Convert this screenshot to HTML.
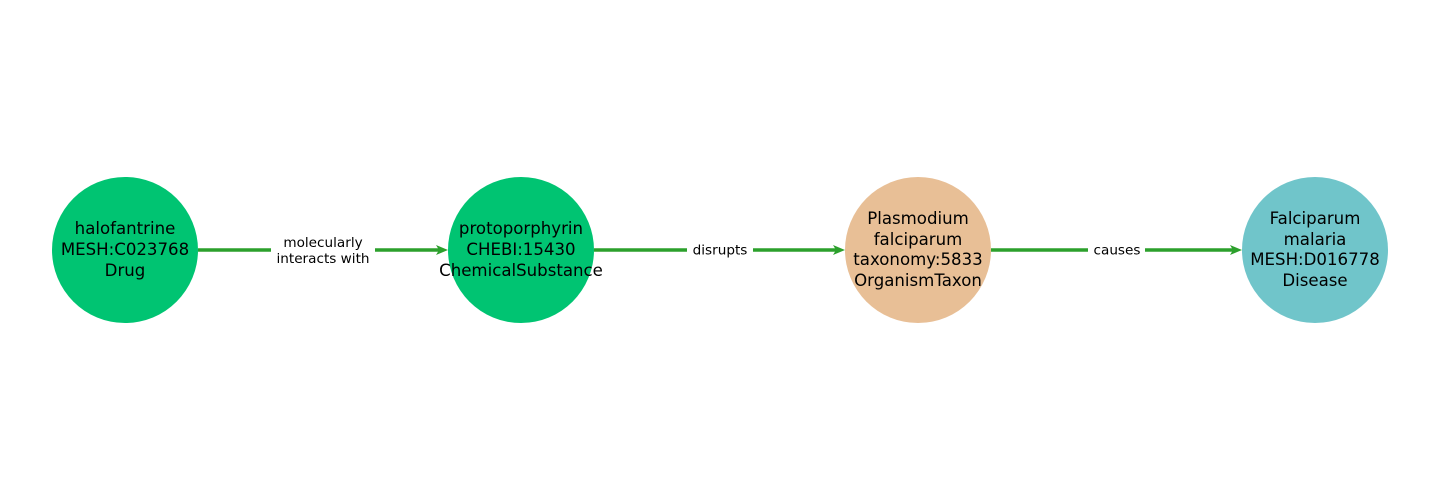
<!DOCTYPE html>
<html><head><meta charset="utf-8"><style>
html,body{margin:0;padding:0;background:#fff;}
svg{display:block;}
.n{font-family:"DejaVu Sans",sans-serif;font-size:16.6px;fill:#000;text-anchor:middle;}
.e{font-family:"DejaVu Sans",sans-serif;font-size:13.6px;fill:#000;text-anchor:middle;}
</style></head><body>
<svg width="1440" height="500" viewBox="0 0 1440 500">
<g stroke="#2ca02c" stroke-width="3.5">
<line x1="198" y1="250" x2="440" y2="250"/>
<line x1="594" y1="250" x2="837" y2="250"/>
<line x1="991" y1="250" x2="1234" y2="250"/>
</g>
<g fill="#2ca02c">
<polygon points="448,250 436,245 439,250 436,255"/>
<polygon points="845,250 833,245 836,250 833,255"/>
<polygon points="1242,250 1230,245 1233,250 1230,255"/>
</g>
<g fill="#fff">
<rect x="271" y="232" width="104" height="34"/>
<rect x="687" y="241" width="66" height="18"/>
<rect x="1088" y="241" width="57" height="18"/>
</g>
<text class="e" x="323" y="247">molecularly</text>
<text class="e" x="323" y="263">interacts with</text>
<text class="e" x="720" y="254.5">disrupts</text>
<text class="e" x="1117" y="254.5">causes</text>
<circle cx="125" cy="250" r="73" fill="#00c472"/>
<circle cx="521" cy="250" r="73" fill="#00c472"/>
<circle cx="918" cy="250" r="73" fill="#e8bf96"/>
<circle cx="1315" cy="250" r="73" fill="#70c5ca"/>
<text class="n" x="125" y="234">halofantrine</text>
<text class="n" x="125" y="255">MESH:C023768</text>
<text class="n" x="125" y="276">Drug</text>
<text class="n" x="521" y="234">protoporphyrin</text>
<text class="n" x="521" y="255">CHEBI:15430</text>
<text class="n" x="521" y="276">ChemicalSubstance</text>
<text class="n" x="918" y="224">Plasmodium</text>
<text class="n" x="918" y="245">falciparum</text>
<text class="n" x="918" y="265">taxonomy:5833</text>
<text class="n" x="918" y="286">OrganismTaxon</text>
<text class="n" x="1315" y="224">Falciparum</text>
<text class="n" x="1315" y="245">malaria</text>
<text class="n" x="1315" y="265">MESH:D016778</text>
<text class="n" x="1315" y="286">Disease</text>
</svg>
</body></html>
